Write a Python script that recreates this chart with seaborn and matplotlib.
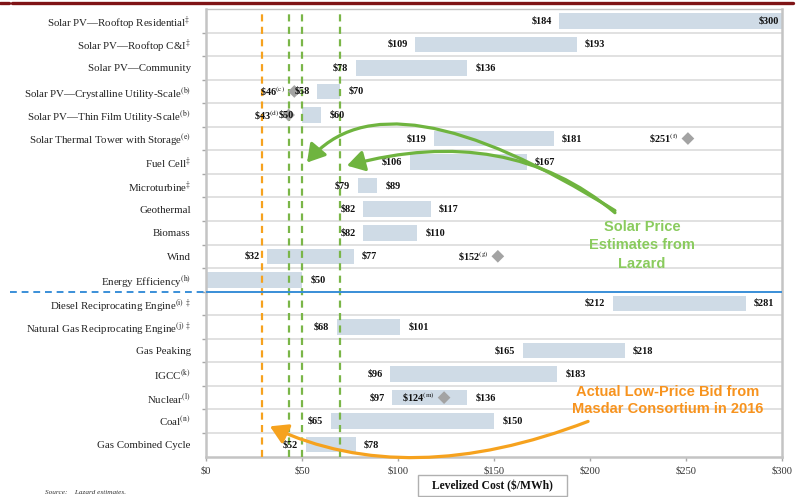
import numpy as np
import pandas as pd
import matplotlib
matplotlib.use("Agg")
import matplotlib.pyplot as plt
import matplotlib.transforms as mtransforms
from matplotlib.lines import Line2D
from matplotlib.patches import Rectangle
import seaborn as sns

# ---- data -------------------------------------------------------------
techs = [
    "Solar PV—Rooftop Residential",
    "Solar PV—Rooftop C&I",
    "Solar PV—Community",
    "Solar PV—Crystalline Utility-Scale",
    "Solar PV—Thin Film Utility-Scale",
    "Solar Thermal Tower with Storage",
    "Fuel Cell",
    "Microturbine",
    "Geothermal",
    "Biomass",
    "Wind",
    "Energy Efficiency",
    "Diesel Reciprocating Engine",
    "Natural Gas Reciprocating Engine",
    "Gas Peaking",
    "IGCC",
    "Nuclear",
    "Coal",
    "Gas Combined Cycle",
]
footnotes = [
    r"\ddagger", r"\ddagger", "", r"\rm(b)", r"\rm(b)", r"\rm(e)",
    r"\ddagger", r"\ddagger", "", "", "", r"\rm(h)",
    r"{\rm(i)}\ \ddagger", r"{\rm(j)}\ \ddagger", "", r"\rm(k)", r"\rm(l)",
    r"\rm(n)", "",
]
cost_low = [184, 109, 78, 58, 50, 119, 106, 79, 82, 82, 32, 0,
            212, 68, 165, 96, 97, 65, 52]
cost_high = [300, 193, 136, 70, 60, 181, 167, 89, 117, 110, 77, 50,
             281, 101, 218, 183, 136, 150, 78]

point_techs = ["Solar PV—Crystalline Utility-Scale",
               "Solar PV—Thin Film Utility-Scale",
               "Solar Thermal Tower with Storage", "Wind", "Nuclear"]
point_values = [46, 43, 251, 152, 124]
point_notes = ["c", "d", "f", "g", "m"]

masdar_bid = 29
solar_refs = [43, 50, 70]
xticks = [0, 50, 100, 150, 200, 250, 300]
renewable_count = 12

# ---- style ------------------------------------------------------------
sns.set_theme(style="white")
plt.rcParams["font.family"] = ["Liberation Serif", "DejaVu Serif"]
plt.rcParams["mathtext.fontset"] = "stix"

BAR = "#cfdbe6"
GRID = "#dedede"
FRAME = "#c4c4c4"
GREEN_LINE = "#7ab648"
GREEN_ARROW = "#6fb43f"
GREEN_TEXT = "#8acb5e"
ORANGE = "#f6a21e"
ORANGE_TEXT = "#f7931e"
SEP_BLUE = "#3a8fd8"
MAROON = "#7f1416"

W, H = 806, 497
fig = plt.figure(figsize=(W / 100, H / 100), dpi=100)
left, right, top, bottom = 206, 782, 9, 456.5
ax = fig.add_axes([left / W, (H - bottom) / H, (right - left) / W, (bottom - top) / H])

# ---- range bars -------------------------------------------------------
df = pd.DataFrame({"tech": techs,
                   "span": np.array(cost_high) - np.array(cost_low)})
sns.barplot(data=df, x="span", y="tech", order=techs, color=BAR,
            saturation=1, width=0.66, errorbar=None, linewidth=0, ax=ax)
for patch, lo in zip(ax.patches, cost_low):
    patch.set_x(lo)
    patch.set_zorder(2)

# ---- point estimates --------------------------------------------------
pts = pd.DataFrame({"tech": point_techs, "value": point_values})
pts["row"] = [techs.index(t) for t in point_techs]
sns.scatterplot(data=pts, x="value", y="row", marker="D", s=42,
                color="#a3a3a3", edgecolor="none", zorder=4, ax=ax)

ax.set_xlim(0, 300)
ax.set_ylim(len(techs) - 0.5, -0.5)
ax.set_xlabel("")
ax.set_ylabel("")

# ---- reference lines --------------------------------------------------
ax.axvline(masdar_bid, color=ORANGE, lw=1.6, ls=(0, (3.2, 2.4)), zorder=3)
for v in solar_refs:
    ax.axvline(v, color=GREEN_LINE, lw=1.6, ls=(0, (3.2, 2.4)), zorder=3)

# ---- value labels -----------------------------------------------------
lab_kw = dict(fontsize=7.4, fontweight="bold", color="#111111",
              va="center", textcoords="offset points", zorder=5)
for i, (lo, hi) in enumerate(zip(cost_low, cost_high)):
    if lo > 0:
        ax.annotate(f"${lo}", (lo, i), xytext=(-5.5, 0), ha="right", **lab_kw)
    if hi >= ax.get_xlim()[1]:
        ax.annotate(f"${hi}", (hi, i), xytext=(-2, 0), ha="right", **lab_kw)
    else:
        ax.annotate(f"${hi}", (hi, i), xytext=(6, 0), ha="left", **lab_kw)
for val, row, note in zip(point_values, pts["row"], point_notes):
    ax.annotate(rf"\${val}$^{{\rm({note})}}$", (val, row), xytext=(-6.5, 0),
                ha="right", **lab_kw)

# ---- axes cosmetics ---------------------------------------------------
ticklabels = [t + (f"$^{{{n}}}$" if n else "") for t, n in zip(techs, footnotes)]
ax.set_yticks(range(len(techs)), labels=ticklabels)
ax.set_yticks(np.arange(0.5, len(techs) - 1, 1), minor=True)
ax.tick_params(axis="y", which="major", length=0, pad=11, labelsize=7.8,
               labelcolor="#222222")
ax.tick_params(axis="y", which="minor", left=True, length=3, width=1,
               color="#a8a8a8")
ax.set_xticks(xticks, labels=[f"${v}" for v in xticks])
ax.tick_params(axis="x", which="major", bottom=True, length=3, width=1,
               color="#a8a8a8", labelsize=7.6, labelcolor="#333333", pad=4)
ax.grid(which="minor", axis="y", color=GRID, lw=1.3)
ax.grid(which="major", visible=False)
ax.set_axisbelow(True)
for s in ax.spines.values():
    s.set_color(FRAME)
    s.set_linewidth(1.8)
ax.spines["top"].set_linewidth(1.0)

# separator between renewable and conventional technologies
sep_y = renewable_count - 0.5
ax.axhline(sep_y, color=SEP_BLUE, lw=1.4, zorder=3)
blend = mtransforms.blended_transform_factory(fig.transFigure, ax.transData)
ax.add_line(Line2D([10 / W, left / W], [sep_y, sep_y], transform=blend,
                   color=SEP_BLUE, lw=1.4, ls=(0, (3.5, 2.5)), clip_on=False))

# axis title in a box
fig.add_artist(Rectangle((418 / W, (H - 496) / H), 149 / W, 21 / H,
                         transform=fig.transFigure, fc="white",
                         ec="#b0b0b0", lw=1))
fig.text(492.5 / W, (H - 486) / H, "Levelized Cost ($/MWh)", ha="center",
         va="center", fontsize=8.4, fontweight="bold", color="#111111")
fig.text(45 / W, (H - 490) / H, "Source:    Lazard estimates.", fontsize=5.2,
         style="italic", color="#333333", va="top")

# header rule
fig.add_artist(Line2D([0, 9 / W], [(H - 3) / H] * 2, color=MAROON, lw=2.4))
fig.add_artist(Line2D([12 / W, 793 / W], [(H - 3) / H] * 2, color=MAROON, lw=2.4))

# ---- callouts ---------------------------------------------------------
sans = ["Liberation Sans", "DejaVu Sans"]
fig.text(642 / W, (H - 245.5) / H, "Solar Price\nEstimates from\nLazard",
         ha="center", va="center", fontsize=10.5, fontweight="bold",
         family=sans, color=GREEN_TEXT, linespacing=1.4)
fig.text(668 / W, (H - 400.5) / H, "Actual Low-Price Bid from\nMasdar Consortium in 2016",
         ha="center", va="center", fontsize=10.5, fontweight="bold",
         family=sans, color=ORANGE_TEXT, linespacing=1.3)

arrow_kw = dict(arrowstyle="-|>,head_length=0.75,head_width=0.45",
                lw=2.3, shrinkA=0, shrinkB=0, mutation_scale=14)
ax.annotate("", xy=(52.6, 6.02), xytext=(213, 8.06),
            arrowprops=dict(color=GREEN_ARROW,
                            connectionstyle="angle3,angleA=148,angleB=50",
                            **arrow_kw), zorder=6)
ax.annotate("", xy=(73.4, 6.15), xytext=(213, 8.15),
            arrowprops=dict(color=GREEN_ARROW,
                            connectionstyle="angle3,angleA=140,angleB=15",
                            **arrow_kw), zorder=6)
ax.annotate("", xy=(33.3, 17.22), xytext=(199, 17.01),
            arrowprops=dict(color=ORANGE,
                            connectionstyle="angle3,angleA=201,angleB=-25",
                            **arrow_kw), zorder=6, annotation_clip=False)

fig.savefig("out.png", dpi=100)
